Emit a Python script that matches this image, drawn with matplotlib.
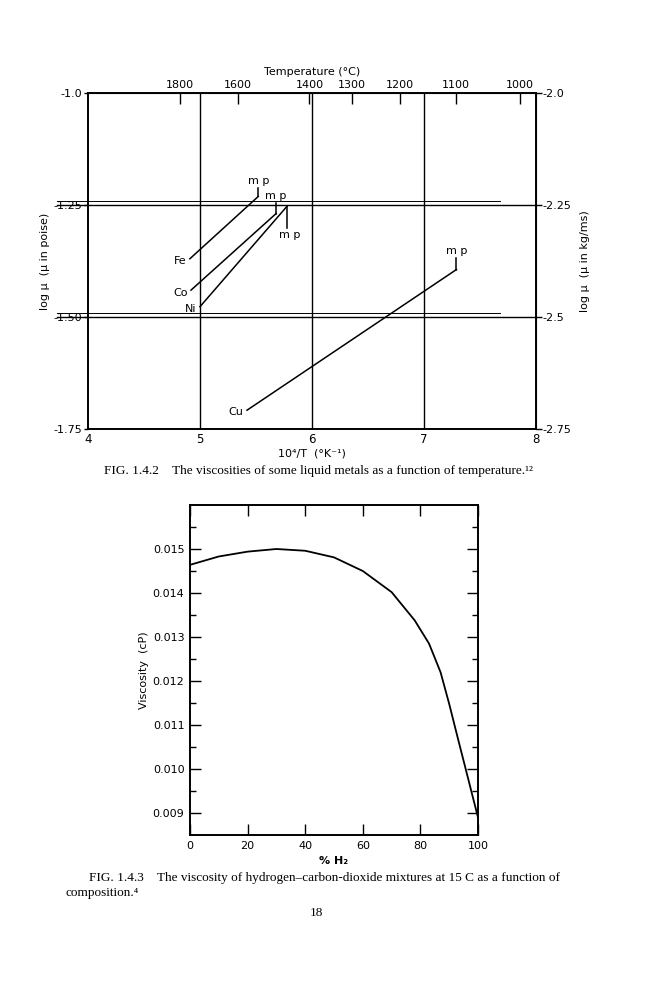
import matplotlib
matplotlib.use('Agg')
import matplotlib.pyplot as plt

# FIG 1.4.2 - log viscosity of liquid metals vs 10^4/T
metals = ['Fe', 'Co', 'Ni', 'Cu']
metal_x = [[4.91, 5.52], [4.92, 5.68], [5.00, 5.78], [5.42, 7.29]]
metal_y = [[-1.370, -1.231], [-1.440, -1.269], [-1.477, -1.252], [-1.708, -1.394]]
mp_tick_end = [-1.213, -1.245, -1.302, -1.369]  # little "mp" marker ends
temp_ticks = [1800, 1600, 1400, 1300, 1200, 1100, 1000]
left_ticks = [-1.0, -1.25, -1.5, -1.75]
left_labels = ['-1.0', '-1.25', '-1.50', '-1.75']
right_ticks = [-2.0, -2.25, -2.5, -2.75]
right_labels = ['-2.0', '-2.25', '-2.5', '-2.75']

# FIG 1.4.3 - viscosity of H2-CO2 mixtures
pct_h2 = [0, 10, 20, 30, 40, 50, 60, 70, 78, 83, 87, 90, 93, 96, 100]
visc = [0.01464, 0.01483, 0.01494, 0.01500, 0.01496, 0.01481, 0.01450,
        0.01402, 0.01338, 0.01285, 0.01220, 0.01148, 0.01070, 0.00993, 0.00890]

sans = 'DejaVu Sans'
serif = 'Liberation Serif'

fig = plt.figure(figsize=(6.66, 10), dpi=100)

# ---------- top chart ----------
ax = fig.add_axes([0.1321, 0.571, 0.6727, 0.336])
ax.set_xlim(4, 8)
ax.set_ylim(-1.75, -1.0)
for s in ax.spines.values():
    s.set_linewidth(1.4)

for xv in [5, 6, 7]:
    ax.axvline(xv, color='black', lw=1.0)
for yv in [-1.25, -1.5]:
    # lines run out past the left spine, under the tick labels
    ax.plot([3.72, 8], [yv, yv], color='black', lw=1.0, clip_on=False)
    ax.plot([3.72, 7.68], [yv + 0.008, yv + 0.008], color='black', lw=0.7, clip_on=False)

for i, name in enumerate(metals):
    ax.plot(metal_x[i], metal_y[i], color='black', lw=1.1)
    ax.plot([metal_x[i][1], metal_x[i][1]], [metal_y[i][1], mp_tick_end[i]], color='black', lw=1.1)

# labels next to lines
ax.text(4.88, -1.376, 'Fe', ha='right', va='center', fontsize=8, family=sans)
ax.text(4.89, -1.446, 'Co', ha='right', va='center', fontsize=8, family=sans)
ax.text(4.97, -1.483, 'Ni', ha='right', va='center', fontsize=8, family=sans)
ax.text(5.39, -1.713, 'Cu', ha='right', va='center', fontsize=8, family=sans)
ax.text(5.52, -1.208, 'm p', ha='center', va='bottom', fontsize=8, family=sans)
ax.text(5.68, -1.240, 'm p', ha='center', va='bottom', fontsize=8, family=sans)
ax.text(5.80, -1.306, 'm p', ha='center', va='top', fontsize=8, family=sans)
ax.text(7.29, -1.364, 'm p', ha='center', va='bottom', fontsize=8, family=sans)

ax.set_xticks([4, 5, 6, 7, 8])
ax.set_xticklabels(['4', '5', '6', '7', '8'], family=sans, fontsize=8.5)
ax.tick_params(axis='x', length=0, pad=3)
ax.set_yticks(left_ticks)
ax.set_yticklabels(left_labels, family=sans, fontsize=8)
ax.tick_params(axis='y', direction='out', length=3, width=1, pad=1)
ax.set_xlabel('10⁴/T  (°K⁻¹)', family=sans, fontsize=8, labelpad=2)
ax.set_ylabel('log μ  (μ in poise)', family=sans, fontsize=8, labelpad=3)

top = ax.secondary_xaxis('top', functions=(lambda x: 1e4 / x - 273, lambda t: 1e4 / (t + 273)))
top.set_xticks(temp_ticks)
top.set_xticklabels([str(t) for t in temp_ticks], family=sans, fontsize=8)
top.tick_params(direction='in', length=8, width=1, pad=2)
top.set_xlabel('Temperature (°C)', family=sans, fontsize=8, labelpad=4)

right = ax.secondary_yaxis('right', functions=(lambda y: y - 1, lambda y: y + 1))
right.set_yticks(right_ticks)
right.set_yticklabels(right_labels, family=sans, fontsize=8)
right.tick_params(direction='out', length=4, width=1, pad=1)
right.set_ylabel('log μ  (μ in kg/ms)', family=sans, fontsize=8, labelpad=6)

fig.text(0.156, 0.529, 'FIG. 1.4.2    The viscosities of some liquid metals as a function of temperature.¹²',
         family=serif, fontsize=9.5, va='center')

# ---------- bottom chart ----------
bx = fig.add_axes([0.2853, 0.165, 0.4324, 0.330])
bx.set_xlim(0, 100)
bx.set_ylim(0.0085, 0.016)
for s in bx.spines.values():
    s.set_linewidth(1.4)
bx.plot(pct_h2, visc, color='black', lw=1.3)

bx.set_xticks([0, 20, 40, 60, 80, 100])
bx.set_xticklabels(['0', '20', '40', '60', '80', '100'], family=sans, fontsize=8)
bx.set_yticks([0.009, 0.010, 0.011, 0.012, 0.013, 0.014, 0.015])
bx.set_yticklabels(['0.009', '0.010', '0.011', '0.012', '0.013', '0.014', '0.015'],
                   family=sans, fontsize=8)
bx.set_yticks([0.0095, 0.0105, 0.0115, 0.0125, 0.0135, 0.0145, 0.0155], minor=True)
bx.tick_params(which='major', direction='in', length=8, width=1, top=True, right=True, pad=4)
bx.tick_params(which='minor', direction='in', length=4, width=1, right=True, left=True)
bx.set_xlabel('% H₂', family=sans, fontsize=8, labelpad=4, fontweight='bold')
bx.set_ylabel('Viscosity  (cP)', family=sans, fontsize=8, labelpad=3)

fig.text(0.1336, 0.122, 'FIG. 1.4.3    The viscosity of hydrogen\u2013carbon-dioxide mixtures at 15 C as a function of',
         family=serif, fontsize=9.5, va='center')
fig.text(0.0976, 0.107, 'composition.⁴', family=serif, fontsize=9.5, va='center')
fig.text(0.4755, 0.087, '18', family=serif, fontsize=9.5, va='center', ha='center')

fig.savefig('out.png', dpi=100, facecolor='white')
